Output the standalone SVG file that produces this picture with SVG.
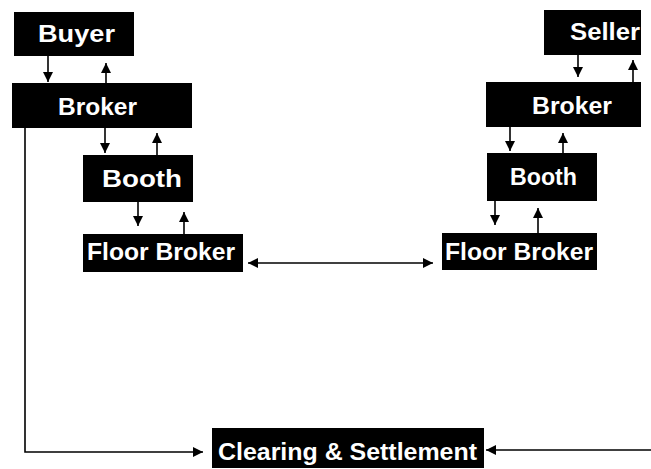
<svg xmlns="http://www.w3.org/2000/svg" width="651" height="469" viewBox="0 0 651 469">
<style>
.box{fill:#000}
.lbl{fill:#fff;font-family:"Liberation Sans",Arial,sans-serif;font-weight:bold;font-size:23px}
.ln{stroke:#000;stroke-width:1.6;fill:none}
</style>
<defs>
<marker id="ah" viewBox="0 0 10 10" refX="10" refY="5" markerWidth="10" markerHeight="10" markerUnits="userSpaceOnUse" orient="auto">
<path d="M0,0 L10,5 L0,10 z" fill="#000"/>
</marker>
</defs>
<rect width="651" height="469" fill="#fff"/>
<g id="buyer"><rect class="box" x="14" y="12" width="120" height="44"/><text class="lbl" x="38" y="42" textLength="77" lengthAdjust="spacingAndGlyphs">Buyer</text></g>
<g id="broker-left"><rect class="box" x="12" y="83" width="180" height="45"/><text class="lbl" x="58" y="115" textLength="79" lengthAdjust="spacingAndGlyphs">Broker</text></g>
<g id="booth-left"><rect class="box" x="83" y="155" width="110" height="47"/><text class="lbl" x="102" y="187" textLength="80" lengthAdjust="spacingAndGlyphs">Booth</text></g>
<g id="floor-left"><rect class="box" x="83" y="234" width="160" height="38"/><text class="lbl" x="87" y="260" textLength="148" lengthAdjust="spacingAndGlyphs">Floor Broker</text></g>
<g id="seller"><rect class="box" x="544" y="10" width="97" height="45"/><text class="lbl" x="570" y="40" textLength="70" lengthAdjust="spacingAndGlyphs">Seller</text></g>
<g id="broker-right"><rect class="box" x="486" y="82" width="155" height="45"/><text class="lbl" x="532" y="114" textLength="80" lengthAdjust="spacingAndGlyphs">Broker</text></g>
<g id="booth-right"><rect class="box" x="487" y="153" width="110" height="48"/><text class="lbl" x="510" y="185" textLength="67" lengthAdjust="spacingAndGlyphs">Booth</text></g>
<g id="floor-right"><rect class="box" x="442" y="233" width="155" height="37"/><text class="lbl" x="445" y="260" textLength="148" lengthAdjust="spacingAndGlyphs">Floor Broker</text></g>
<g id="clearing"><rect class="box" x="212" y="428" width="272" height="40"/><text class="lbl" x="218" y="460" textLength="259" lengthAdjust="spacingAndGlyphs">Clearing &amp; Settlement</text></g>
<g id="connectors">
<line class="ln" x1="48" y1="56" x2="48" y2="82" marker-end="url(#ah)"/>
<line class="ln" x1="106" y1="83" x2="106" y2="63" marker-end="url(#ah)"/>
<line class="ln" x1="105" y1="128" x2="105" y2="153" marker-end="url(#ah)"/>
<line class="ln" x1="157" y1="155" x2="157" y2="133" marker-end="url(#ah)"/>
<line class="ln" x1="138" y1="202" x2="138" y2="226" marker-end="url(#ah)"/>
<line class="ln" x1="184" y1="234" x2="184" y2="212" marker-end="url(#ah)"/>
<line class="ln" x1="578" y1="55" x2="578" y2="77" marker-end="url(#ah)"/>
<line class="ln" x1="633" y1="82" x2="633" y2="60" marker-end="url(#ah)"/>
<line class="ln" x1="510" y1="127" x2="510" y2="151" marker-end="url(#ah)"/>
<line class="ln" x1="563" y1="153" x2="563" y2="133" marker-end="url(#ah)"/>
<line class="ln" x1="495" y1="201" x2="495" y2="225" marker-end="url(#ah)"/>
<line class="ln" x1="538" y1="233" x2="538" y2="208" marker-end="url(#ah)"/>
<line class="ln" x1="340" y1="263" x2="248" y2="263" marker-end="url(#ah)"/>
<line class="ln" x1="340" y1="263" x2="433" y2="263" marker-end="url(#ah)"/>
<path class="ln" d="M25,128 V452 H203" marker-end="url(#ah)"/>
<line class="ln" x1="651" y1="450" x2="486" y2="450" marker-end="url(#ah)"/>
</g>
</svg>
